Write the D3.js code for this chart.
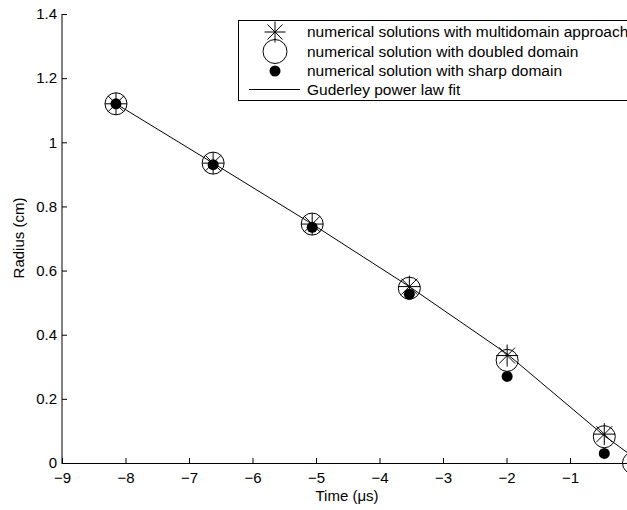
<!DOCTYPE html>
<html>
<head>
<meta charset="utf-8">
<script src="https://cdn.jsdelivr.net/npm/d3@7"></script>
<style>
  html, body { margin: 0; padding: 0; background: #fff; }
  svg { display: block; }
  text { font-family: "Liberation Sans", Arial, Helvetica, sans-serif; fill: #000; }
</style>
</head>
<body>
<div id="chart"></div>
<script>
// ---- data ----
const timeMulti = [-8.15, -6.62, -5.06, -3.53, -1.99, -0.46];
const radiusMulti = [1.12, 0.935, 0.745, 0.55, 0.335, 0.09];
const timeDoubled = [-8.15, -6.62, -5.06, -3.53, -1.99, -0.46, 0];
const radiusDoubled = [1.12, 0.935, 0.745, 0.545, 0.32, 0.082, 0];
const timeSharp = [-8.15, -6.62, -5.06, -3.53, -1.99, -0.46];
const radiusSharp = [1.12, 0.93, 0.735, 0.526, 0.27, 0.03];
const timeFit = [-8.15, -6.62, -5.06, -3.53, -1.99, -0.46, -0.08, 0];
const radiusFit = [1.12, 0.935, 0.745, 0.55, 0.34, 0.085, 0.03, 0];
const xTicks = [-9, -8, -7, -6, -5, -4, -3, -2, -1];
const yTicks = [0, 0.2, 0.4, 0.6, 0.8, 1, 1.2, 1.4];
const legendLabels = [
  "numerical solutions with multidomain approach",
  "numerical solution with doubled domain",
  "numerical solution with sharp domain",
  "Guderley power law fit"
];

const W = 627, H = 510;
const FS = 15;
const svg = d3.select("#chart").append("svg").attr("width", W).attr("height", H);

const x = d3.scaleLinear().domain([-9, 0]).range([62, 633.5]);
const y = d3.scaleLinear().domain([0, 1.4]).range([463, 14]);

const fmt = d => (d < 0 ? "\u2212" + Math.abs(d) : String(d));

// axes
const xAxis = d3.axisBottom(x).tickValues(xTicks).tickSizeInner(-5).tickSizeOuter(0).tickPadding(9).tickFormat(fmt);
const gx = svg.append("g").attr("transform", "translate(0,463)").call(xAxis);
gx.select(".domain").remove();
gx.selectAll("line").attr("stroke", "#000");
gx.selectAll("text").attr("font-size", FS).attr("font-family", "Liberation Sans, Arial, sans-serif").attr("fill", "#000");
svg.append("line").attr("x1", 62).attr("x2", 640).attr("y1", 463.5).attr("y2", 463.5).attr("stroke", "#000");

const yAxis = d3.axisLeft(y).tickValues(yTicks).tickSizeInner(-5).tickSizeOuter(0).tickPadding(5).tickFormat(d => String(d));
const gy = svg.append("g").attr("transform", "translate(62,0)").call(yAxis);
gy.select(".domain").remove();
gy.selectAll("line").attr("stroke", "#000");
gy.selectAll("text").attr("font-size", FS).attr("font-family", "Liberation Sans, Arial, sans-serif").attr("fill", "#000");
svg.append("line").attr("x1", 62).attr("x2", 62).attr("y1", 14).attr("y2", 464).attr("stroke", "#000");

// axis labels
svg.append("text").attr("x", 347).attr("y", 501).attr("text-anchor", "middle").attr("font-size", FS).text("Time (\u03bcs)");
svg.append("text").attr("transform", "translate(24,238) rotate(-90)").attr("text-anchor", "middle").attr("font-size", FS).text("Radius (cm)");

// clip
svg.append("defs").append("clipPath").attr("id", "plotclip")
  .append("rect").attr("x", 0).attr("y", 0).attr("width", W).attr("height", 480);
const plot = svg.append("g").attr("clip-path", "url(#plotclip)");

// fit line
const fitData = timeFit.map((t, i) => [t, radiusFit[i]]);
plot.append("path").datum(fitData)
  .attr("d", d3.line().x(d => x(d[0])).y(d => y(d[1])))
  .attr("fill", "none").attr("stroke", "#000").attr("stroke-width", 1);

// star path generator
function starPath(cx, cy, r) {
  const p = d3.path();
  const dgl = r * 0.72;
  p.moveTo(cx, cy - r); p.lineTo(cx, cy + r);
  p.moveTo(cx - r, cy); p.lineTo(cx + r, cy);
  p.moveTo(cx - dgl, cy - dgl); p.lineTo(cx + dgl, cy + dgl);
  p.moveTo(cx - dgl, cy + dgl); p.lineTo(cx + dgl, cy - dgl);
  return p.toString();
}

// doubled circles
const doubled = timeDoubled.map((t, i) => [t, radiusDoubled[i]]);
plot.selectAll("circle.dbl").data(doubled).enter().append("circle")
  .attr("class", "dbl")
  .attr("cx", d => x(d[0])).attr("cy", d => y(d[1])).attr("r", 11)
  .attr("fill", "none").attr("stroke", "#000").attr("stroke-width", 1);

// stars
const multi = timeMulti.map((t, i) => [t, radiusMulti[i]]);
plot.selectAll("path.star").data(multi).enter().append("path")
  .attr("class", "star")
  .attr("d", d => starPath(x(d[0]), y(d[1]), 11))
  .attr("fill", "none").attr("stroke", "#000").attr("stroke-width", 1);

// sharp dots
const sharp = timeSharp.map((t, i) => [t, radiusSharp[i]]);
plot.selectAll("circle.sharp").data(sharp).enter().append("circle")
  .attr("class", "sharp")
  .attr("cx", d => x(d[0])).attr("cy", d => y(d[1])).attr("r", 5.5)
  .attr("fill", "#000");

// legend
const lg = svg.append("g");
lg.append("rect").attr("x", 238.5).attr("y", 20.5).attr("width", 395).attr("height", 80)
  .attr("fill", "#fff").attr("stroke", "#000").attr("stroke-width", 1);
const rowY = [32, 51.5, 71, 89.5];
const mx = 275;
lg.append("path").attr("d", starPath(mx, rowY[0], 10.5)).attr("fill", "none").attr("stroke", "#000");
lg.append("circle").attr("cx", mx).attr("cy", rowY[1]).attr("r", 12).attr("fill", "none").attr("stroke", "#000");
lg.append("circle").attr("cx", mx).attr("cy", rowY[2]).attr("r", 5.5).attr("fill", "#000");
lg.append("line").attr("x1", 249).attr("x2", 300).attr("y1", rowY[3]).attr("y2", rowY[3]).attr("stroke", "#000");
lg.selectAll("text.leg").data(legendLabels).enter().append("text")
  .attr("class", "leg")
  .attr("x", 307).attr("y", (d, i) => rowY[i]).attr("dy", "0.35em")
  .attr("font-size", 15.5).text(d => d);
</script>
</body>
</html>
